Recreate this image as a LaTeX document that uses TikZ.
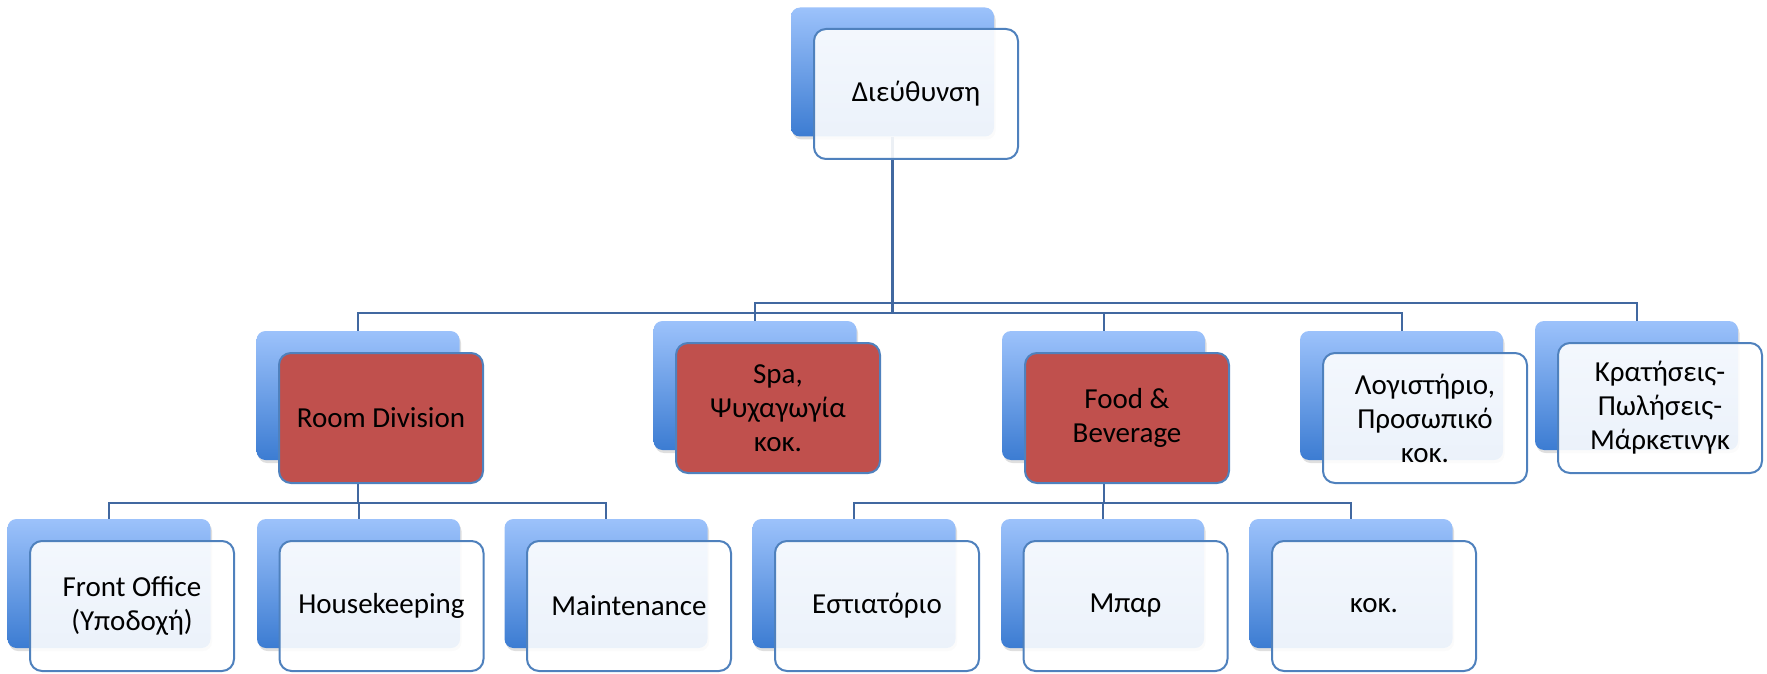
\documentclass[tikz,border=0pt]{standalone}
\usepackage{fontspec}
\setmainfont{Carlito}
\usetikzlibrary{shadows}
\definecolor{backtop}{RGB}{156,194,251}
\definecolor{backbot}{RGB}{60,124,210}
\definecolor{edgeblue}{RGB}{79,129,189}
\definecolor{linkblue}{RGB}{65,104,160}
\definecolor{redfill}{RGB}{192,80,77}
\begin{document}
\begin{tikzpicture}[x=1pt,y=-1pt,
    back/.style={rounded corners=9pt, minimum width=203pt, minimum height=129pt,
      top color=backtop, bottom color=backbot,
      drop shadow={shadow xshift=1.5pt, shadow yshift=-3pt, opacity=0.25}},
    front/.style={rounded corners=12pt, minimum width=204pt, minimum height=130pt,
      draw=edgeblue, line width=2pt, fill=white, fill opacity=0.9, text opacity=1,
      align=center, font=\fontsize{29}{34}\selectfont},
    hot/.style={front, fill=redfill, fill opacity=1},
    link/.style={draw=linkblue, line width=2pt}]
  \useasboundingbox (0,0) rectangle (1767,674);
  % back boxes
  \node[back] (dirB) at (892.5,72) {};
  \node[back] (rdB) at (358,395.5) {};
  \node[back] (spaB) at (755,385.5) {};
  \node[back] (fbB) at (1103.5,395.5) {};
  \node[back] (logB) at (1401.5,395.5) {};
  \node[back] (krB) at (1636.5,385.5) {};
  \node[back] (foB) at (109,583.5) {};
  \node[back] (hkB) at (358.5,583.5) {};
  \node[back] (mtB) at (606,583.5) {};
  \node[back] (esB) at (854,583.5) {};
  \node[back] (barB) at (1102.5,583.5) {};
  \node[back] (etcB) at (1351,583.5) {};
  % connectors
  \coordinate (upper) at (0,303);
  \coordinate (lower) at (0,313);
  \coordinate (low3) at (0,503);
  \begin{scope}[link]
    \draw[line width=3.5pt] (dirB.south) -- (dirB.south |- lower);
    \draw (spaB.north) -- (spaB.north |- upper) -- (krB.north |- upper) -- (krB.north);
    \draw (rdB.north) -- (rdB.north |- lower) -- (logB.north |- lower) -- (logB.north);
    \draw (fbB.north) -- (fbB.north |- lower);
    \draw (rdB.south) -- (rdB.south |- low3);
    \draw (foB.north) -- (foB.north |- low3) -- (mtB.north |- low3) -- (mtB.north);
    \draw (hkB.north) -- (hkB.north |- low3);
    \draw (fbB.south) -- (fbB.south |- low3);
    \draw (esB.north) -- (esB.north |- low3) -- (etcB.north |- low3) -- (etcB.north);
    \draw (barB.north) -- (barB.north |- low3);
  \end{scope}
  % front boxes
  \node[front] (dir) at (916,94) {Διεύθυνση};
  \node[hot] (rd) at (381,418) {Room Division};
  \node[hot] (spa) at (778,408) {Spa,\\Ψυχαγωγία\\κοκ.};
  \node[hot] (fb) at (1127,418) {Food \&\\Beverage};
  \node[front] (log) at (1425,418) {Λογιστήριο,\\Προσωπικό\\κοκ.};
  \node[front] (kr) at (1660,408) {Κρατήσεις-\\Πωλήσεις-\\Μάρκετινγκ};
  \node[front] (fo) at (132,606) {Front Office\\(Υποδοχή)};
  \node[front] (hk) at (381.5,606) {Housekeeping};
  \node[front] (mt) at (629,606) {Maintenance};
  \node[front] (es) at (877,606) {Εστιατόριο};
  \node[front] (bar) at (1125.5,606) {Μπαρ};
  \node[front] (etc) at (1374,606) {κοκ.};
\end{tikzpicture}
\end{document}
